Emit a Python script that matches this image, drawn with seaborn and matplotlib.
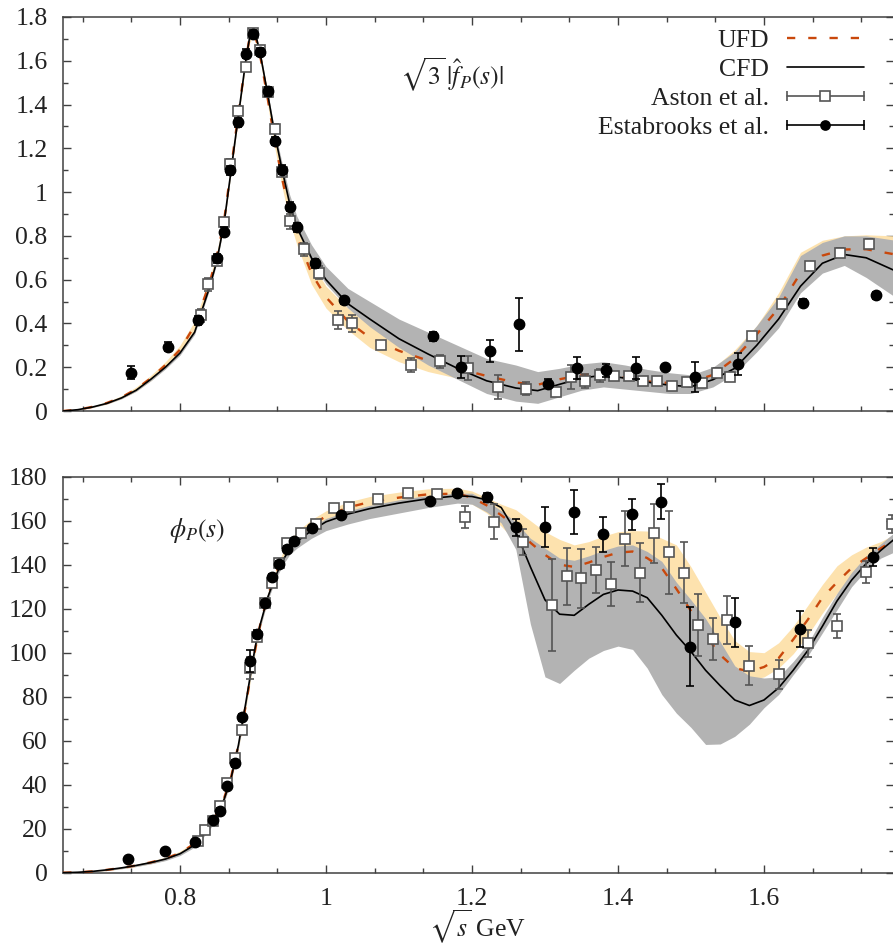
import matplotlib
matplotlib.use("Agg")
import numpy as np
import pandas as pd
import seaborn as sns
import matplotlib.pyplot as plt
from matplotlib.ticker import MultipleLocator, FuncFormatter
from matplotlib.legend_handler import HandlerBase
from matplotlib.lines import Line2D

# ---------------- data: top panel, modulus ----------------
x_curve = [0.64, 0.66, 0.68, 0.70, 0.72, 0.74, 0.76, 0.78, 0.80, 0.82, 0.84,
           0.85, 0.86, 0.87, 0.88, 0.89, 0.895, 0.90, 0.905, 0.91,
           0.92, 0.93, 0.94, 0.95, 0.96,
           0.98, 1.00, 1.03, 1.06, 1.10, 1.14, 1.18, 1.22, 1.26,
           1.29, 1.32, 1.35, 1.38, 1.41, 1.44, 1.47, 1.50, 1.53, 1.56, 1.59,
           1.62, 1.65, 1.68, 1.71, 1.74, 1.78]
cfd_mod = [0.0, 0.006, 0.018, 0.035, 0.060, 0.095, 0.145, 0.200, 0.265, 0.36, 0.56,
           0.68, 0.85, 1.10, 1.35, 1.60, 1.70, 1.735, 1.70, 1.63,
           1.45, 1.26, 1.10, 0.95, 0.84,
           0.70, 0.60, 0.49, 0.42, 0.33, 0.26, 0.195, 0.138, 0.105,
           0.093, 0.122, 0.150, 0.164, 0.150, 0.132, 0.118, 0.111, 0.143, 0.195, 0.30,
           0.42, 0.57, 0.675, 0.715, 0.70, 0.64]
cfd_mod_lo = [0.0, 0.005, 0.016, 0.032, 0.056, 0.090, 0.138, 0.192, 0.255, 0.35, 0.55,
              0.67, 0.84, 1.09, 1.34, 1.59, 1.69, 1.725, 1.69, 1.62,
              1.44, 1.25, 1.09, 0.94, 0.83,
              0.68, 0.58, 0.47, 0.385, 0.29, 0.21, 0.145, 0.08, 0.045,
              0.035, 0.065, 0.095, 0.11, 0.10, 0.09, 0.08, 0.08, 0.11, 0.17, 0.27,
              0.38, 0.54, 0.63, 0.665, 0.61, 0.52]
cfd_mod_hi = [0.0, 0.007, 0.020, 0.038, 0.064, 0.100, 0.152, 0.208, 0.275, 0.37, 0.57,
              0.69, 0.86, 1.11, 1.36, 1.61, 1.71, 1.745, 1.71, 1.64,
              1.46, 1.28, 1.13, 0.99, 0.89,
              0.76, 0.66, 0.56, 0.50, 0.42, 0.36, 0.30, 0.24, 0.21,
              0.18, 0.195, 0.215, 0.225, 0.21, 0.19, 0.175, 0.165, 0.20, 0.27, 0.39,
              0.52, 0.71, 0.77, 0.80, 0.80, 0.78]
ufd_mod = [0.0, 0.006, 0.019, 0.037, 0.063, 0.10, 0.15, 0.21, 0.28, 0.39, 0.58,
           0.70, 0.86, 1.11, 1.36, 1.60, 1.70, 1.73, 1.69, 1.62,
           1.43, 1.23, 1.06, 0.91, 0.80,
           0.63, 0.52, 0.41, 0.335, 0.275, 0.23, 0.195, 0.16, 0.13,
           0.12, 0.145, 0.165, 0.17, 0.152, 0.135, 0.128, 0.132, 0.165, 0.24, 0.35,
           0.47, 0.63, 0.71, 0.738, 0.739, 0.715]
ufd_mod_lo = [0.0, 0.005, 0.016, 0.032, 0.056, 0.090, 0.138, 0.195, 0.26, 0.37, 0.56,
              0.68, 0.84, 1.09, 1.34, 1.58, 1.68, 1.71, 1.67, 1.60,
              1.40, 1.20, 1.02, 0.87, 0.76,
              0.58, 0.47, 0.37, 0.29, 0.225, 0.18, 0.15, 0.12, 0.095,
              0.09, 0.115, 0.135, 0.14, 0.122, 0.105, 0.10, 0.105, 0.135, 0.20, 0.31,
              0.43, 0.58, 0.67, 0.70, 0.70, 0.68]
ufd_mod_hi = [0.0, 0.008, 0.022, 0.042, 0.070, 0.110, 0.163, 0.225, 0.30, 0.41, 0.60,
              0.72, 0.88, 1.13, 1.38, 1.62, 1.72, 1.75, 1.71, 1.64,
              1.46, 1.26, 1.10, 0.95, 0.84,
              0.68, 0.57, 0.47, 0.39, 0.325, 0.28, 0.24, 0.20, 0.165,
              0.15, 0.175, 0.195, 0.20, 0.182, 0.165, 0.155, 0.16, 0.195, 0.28, 0.39,
              0.54, 0.725, 0.78, 0.80, 0.805, 0.80]

est_mod_x = [0.733, 0.784, 0.824, 0.850, 0.860, 0.869, 0.880, 0.890, 0.900, 0.909,
             0.920, 0.930, 0.940, 0.950, 0.960, 0.985, 1.025, 1.146, 1.185, 1.224,
             1.264, 1.304, 1.344, 1.384, 1.425, 1.465, 1.505, 1.564, 1.654, 1.754]
est_mod_y = [0.175, 0.294, 0.415, 0.697, 0.819, 1.100, 1.319, 1.633, 1.722, 1.640,
             1.461, 1.233, 1.103, 0.933, 0.840, 0.674, 0.505, 0.342, 0.202, 0.274,
             0.396, 0.125, 0.195, 0.186, 0.195, 0.202, 0.155, 0.213, 0.495, 0.528]
est_mod_e = [0.03, 0.02, 0.02, 0.02, 0.02, 0.02, 0.02, 0.02, 0.02, 0.02,
             0.02, 0.02, 0.02, 0.02, 0.02, 0.02, 0.015, 0.02, 0.05, 0.05,
             0.12, 0.02, 0.05, 0.03, 0.05, 0.01, 0.07, 0.05, 0.015, 0.015]

ast_mod_x = [0.829, 0.839, 0.850, 0.860, 0.869, 0.880, 0.890, 0.900, 0.910, 0.920,
             0.930, 0.940, 0.950, 0.970, 0.991, 1.016, 1.035, 1.076, 1.116, 1.156,
             1.195, 1.235, 1.274, 1.315, 1.335, 1.355, 1.375, 1.394, 1.415, 1.434,
             1.454, 1.474, 1.495, 1.515, 1.535, 1.554, 1.584, 1.624, 1.663, 1.704, 1.744]
ast_mod_y = [0.437, 0.578, 0.685, 0.864, 1.129, 1.372, 1.572, 1.727, 1.648, 1.456,
             1.290, 1.093, 0.867, 0.738, 0.631, 0.415, 0.400, 0.301, 0.210, 0.228,
             0.198, 0.111, 0.102, 0.088, 0.155, 0.137, 0.163, 0.160, 0.160, 0.137,
             0.137, 0.114, 0.134, 0.129, 0.175, 0.157, 0.342, 0.487, 0.662, 0.723, 0.764]
ast_mod_e = [0.03, 0.03, 0.02, 0.02, 0.02, 0.02, 0.02, 0.02, 0.02, 0.02,
             0.02, 0.02, 0.035, 0.03, 0.03, 0.04, 0.04, 0.02, 0.03, 0.03,
             0.055, 0.055, 0.03, 0.01, 0.055, 0.03, 0.03, 0.02, 0.01, 0.01,
             0.01, 0.01, 0.01, 0.01, 0.02, 0.02, 0.01, 0.01, 0.02, 0.02, 0.02]

# ---------------- data: bottom panel, phase ----------------
x_phase = [0.64, 0.66, 0.68, 0.70, 0.72, 0.74, 0.76, 0.78, 0.80, 0.82, 0.84,
           0.85, 0.86, 0.87, 0.88, 0.89, 0.895, 0.90, 0.905, 0.91,
           0.92, 0.93, 0.94, 0.95, 0.96,
           0.98, 1.00, 1.03, 1.06, 1.10, 1.14, 1.18,
           1.20, 1.22, 1.24, 1.26, 1.28, 1.30, 1.32, 1.34, 1.36, 1.38,
           1.40, 1.42, 1.44, 1.46, 1.48, 1.50, 1.52, 1.54, 1.56, 1.58,
           1.60, 1.62, 1.64, 1.66, 1.68, 1.70, 1.72, 1.74, 1.76, 1.78]
cfd_phase = [0, 0.2, 0.6, 1.3, 2.2, 3.3, 4.6, 6.2, 8.6, 12.6, 20.5,
             26, 33, 43, 58, 77, 87, 97, 106, 113,
             125, 134, 141.5, 147, 150.5,
             155.5, 159.5, 163, 165.5, 168, 170, 171.3,
             171, 169.5, 166, 155, 139, 124, 117.5, 117, 122, 126.5,
             128.5, 128, 125, 117, 108, 100.5, 92, 85, 78.5, 76,
             78.5, 84, 92, 101, 112, 123.5, 133, 140.5, 146.5, 152]
cfd_phase_lo = [0, 0.1, 0.4, 1.0, 1.8, 2.8, 4.0, 5.5, 7.8, 11.6, 19.3,
                24.7, 31.6, 41.5, 56.5, 75.5, 85.5, 95.5, 104.5, 111.5,
                123.5, 132.5, 139.5, 144.5, 147.5,
                152, 155.5, 158.5, 161, 163.5, 166, 168,
                167.5, 164, 159, 147, 113, 89, 86, 92, 97.5, 101,
                103, 101.5, 93, 81, 72.5, 66, 58.3, 58.5, 62, 67.5,
                75, 81, 90, 98.5, 109, 119.5, 130, 137.5, 143, 146]
cfd_phase_hi = [0, 0.3, 0.8, 1.6, 2.6, 3.8, 5.2, 6.9, 9.4, 13.6, 21.7,
                27.3, 34.4, 44.5, 59.5, 78.5, 88.5, 98.5, 107.5, 114.5,
                126.5, 135.5, 143, 148.5, 152,
                157, 161, 164.5, 167, 169.5, 171.5, 172.5,
                172.5, 169, 164.5, 159.5, 152, 147.5, 143, 142, 144, 146.5,
                148.5, 149, 146, 141.5, 132, 124, 115.5, 105, 94, 89.5,
                88.5, 89, 96, 104, 116, 127, 136.5, 144, 149.5, 155]
ufd_phase = [0, 0.2, 0.6, 1.3, 2.2, 3.3, 4.7, 6.4, 9.0, 13.2, 21,
             26.5, 33.5, 43.5, 58, 76, 86, 96, 105, 113,
             125.5, 135, 143, 148.5, 152.5,
             158, 162, 166, 168.5, 170.5, 172, 172.3,
             170.5, 167, 162.5, 157.5, 150, 144.5, 140, 139, 141, 143.5,
             145.5, 146, 143, 138.5, 129, 119, 108, 99, 93, 91.5,
             93.5, 97.5, 106, 115, 125, 132, 138.5, 143, 147.5, 151.5]
ufd_phase_lo = [0, 0.1, 0.4, 1.0, 1.8, 2.8, 4.1, 5.7, 8.2, 12.2, 19.8,
                25.2, 32, 42, 56.5, 74.5, 84.5, 94.5, 103.5, 111.5,
                124, 133.5, 141, 146, 150,
                155.5, 159.5, 163.5, 166, 168, 169.5, 169.8,
                167.5, 163.5, 157.5, 150.5, 141, 135, 130, 129, 131, 133.5,
                135.5, 136, 133, 128, 117, 106, 97, 89, 86, 87.5,
                89, 93, 99.5, 108, 118, 127, 133.5, 139, 144, 149]
ufd_phase_hi = [0, 0.3, 0.8, 1.6, 2.6, 3.8, 5.3, 7.1, 9.8, 14.2, 22.2,
                27.8, 35, 45, 59.5, 77.5, 87.5, 97.5, 106.5, 114.5,
                127, 136.5, 145, 151, 155,
                160.5, 164.5, 168.5, 171, 173, 174.5, 174.8,
                173.5, 170.5, 167.5, 165, 160, 155, 151.5, 149, 150.5, 153,
                155, 155.5, 155.3, 152, 149, 139, 127.5, 116, 105.5, 100.5,
                100, 104.5, 112, 121.5, 131, 139.5, 144.5, 148, 150.5, 154]

est_ph_x = [0.729, 0.779, 0.820, 0.845, 0.855, 0.865, 0.875, 0.885, 0.896, 0.906,
            0.916, 0.926, 0.936, 0.946, 0.956, 0.981, 1.021, 1.142, 1.179, 1.220,
            1.260, 1.300, 1.340, 1.379, 1.419, 1.459, 1.499, 1.560, 1.650, 1.749]
est_ph_y = [6.1, 9.8, 13.8, 23.9, 28.2, 39.4, 49.7, 70.6, 96.2, 108.5,
            122.4, 134.5, 140.3, 147.3, 150.8, 156.8, 162.6, 168.9, 172.7, 170.6,
            157.0, 157.0, 163.8, 153.8, 162.9, 168.6, 102.7, 113.8, 110.8, 143.6]
est_ph_e = [1, 1, 1, 1, 1, 1, 1.5, 1.5, 5, 2,
            1.5, 1.5, 1.5, 1, 1, 1, 1, 1, 1, 2,
            4, 9, 10, 8, 7, 8, 18, 11, 8, 4]

ast_ph_x = [0.824, 0.834, 0.845, 0.855, 0.865, 0.875, 0.885, 0.896, 0.906, 0.916,
            0.926, 0.936, 0.946, 0.966, 0.986, 1.011, 1.031, 1.071, 1.112, 1.152,
            1.190, 1.230, 1.270, 1.310, 1.330, 1.350, 1.370, 1.390, 1.410, 1.430,
            1.450, 1.470, 1.490, 1.510, 1.530, 1.549, 1.580, 1.620, 1.660, 1.700,
            1.740, 1.775]
ast_ph_y = [14.5, 19.4, 23.5, 30.3, 40.9, 52.3, 64.8, 93.2, 107.3, 122.4,
            131.5, 140.6, 149.7, 154.5, 158.5, 165.6, 166.4, 169.7, 172.4, 172.0,
            161.5, 159.5, 150.2, 121.7, 134.8, 133.8, 137.6, 131.2, 151.7, 136.4,
            154.2, 145.6, 136.4, 112.6, 106.2, 114.8, 94.1, 90.2, 104.2, 112.3,
            136.8, 158.5]
ast_ph_e = [1, 1, 1, 1, 1, 1, 1.5, 5, 2, 1.5,
            1.5, 1.5, 1, 1, 1, 1, 1, 1, 1, 1,
            5, 8, 6, 21, 13, 13.5, 10.5, 10, 12.5, 13.5,
            13.5, 18.7, 14, 14, 9.7, 11, 9, 6.5, 6, 5.5,
            5, 4]

ytick_mod = [0, 0.2, 0.4, 0.6, 0.8, 1.0, 1.2, 1.4, 1.6, 1.8]
ytick_ph = [0, 20, 40, 60, 80, 100, 120, 140, 160, 180]
xtick_lab = [0.8, 1.0, 1.2, 1.4, 1.6]

# ---------------- style ----------------
sns.set_theme(style="ticks")
plt.rcParams["font.family"] = ["Liberation Serif", "DejaVu Serif"]
plt.rcParams["mathtext.fontset"] = "stix"

UFD_C = "#c9480c"
BAND_O = "#fde2ae"
BAND_G = "#b3b3b3"
AST_C = "#555555"
SPINE = "#404040"
TXT = "#222222"
FS = 18.5

fig = plt.figure(figsize=(8.93, 9.46), dpi=100)
L = 63 / 893
R = 894 / 893
ax1 = fig.add_axes([L, 1 - 411 / 946, R - L, (411 - 17) / 946])
ax2 = fig.add_axes([L, 1 - 872.7 / 946, R - L, (872.7 - 476.7) / 946])

fmt = FuncFormatter(lambda v, p: f"{v:g}")


def style(ax, yticks, yminor):
    ax.set_xlim(0.6397, 1.7781)
    ax.set_ylim(yticks[0], yticks[-1])
    ax.set_xticks(xtick_lab)
    ax.xaxis.set_minor_locator(MultipleLocator(0.2 / 3))
    ax.set_yticks(yticks)
    ax.yaxis.set_minor_locator(MultipleLocator(yminor))
    ax.xaxis.set_major_formatter(fmt)
    ax.yaxis.set_major_formatter(fmt)
    ax.tick_params(which="both", direction="in", top=True, right=True,
                   color=SPINE, labelcolor=TXT, labelsize=FS, pad=11)
    ax.tick_params(which="major", length=6, width=1.0)
    ax.tick_params(which="minor", length=3.5, width=1.0)
    for s in ax.spines.values():
        s.set_color(SPINE)
        s.set_linewidth(1.1)


def draw(ax, xc, cfd, cfd_lo, cfd_hi, ufd, ufd_lo, ufd_hi,
         ax_x, ax_y, ax_e, es_x, es_y, es_e):
    ax.fill_between(xc, ufd_lo, ufd_hi, color=BAND_O, lw=0, zorder=1)
    ax.fill_between(xc, cfd_lo, cfd_hi, color=BAND_G, lw=0, zorder=2)
    df = pd.DataFrame({"x": xc, "cfd": cfd, "ufd": ufd})
    sns.lineplot(data=df, x="x", y="ufd", ax=ax, color=UFD_C, lw=1.7,
                 linestyle=(0, (3.5, 5.5)), estimator=None, sort=False, zorder=3)
    sns.lineplot(data=df, x="x", y="cfd", ax=ax, color="black", lw=1.2,
                 estimator=None, sort=False, zorder=4)
    ax.errorbar(ax_x, ax_y, yerr=ax_e, fmt="s", ms=7.5, mfc="white", mec=AST_C,
                mew=1.2, ecolor=AST_C, elinewidth=1.2, capsize=3, capthick=1.2,
                zorder=5)
    ax.errorbar(es_x, es_y, yerr=es_e, fmt="o", ms=7.5, mfc="black", mec="black",
                ecolor="black", elinewidth=1.2, capsize=3, capthick=1.2, zorder=6)
    ax.set_xlabel("")
    ax.set_ylabel("")


draw(ax1, x_curve, cfd_mod, cfd_mod_lo, cfd_mod_hi, ufd_mod, ufd_mod_lo, ufd_mod_hi,
     ast_mod_x, ast_mod_y, ast_mod_e, est_mod_x, est_mod_y, est_mod_e)
draw(ax2, x_phase, cfd_phase, cfd_phase_lo, cfd_phase_hi, ufd_phase, ufd_phase_lo,
     ufd_phase_hi, ast_ph_x, ast_ph_y, ast_ph_e, est_ph_x, est_ph_y, est_ph_e)
style(ax1, ytick_mod, 0.1)
style(ax2, ytick_ph, 10)
ax1.tick_params(labelbottom=False)

ax1.text(0.468, 0.853, r"$\sqrt{3}\,|\hat{f}_P(s)|$", transform=ax1.transAxes,
         ha="center", va="center", fontsize=FS, color=TXT)
ax2.text(0.161, 0.863, r"$\phi_P(s)$", transform=ax2.transAxes,
         ha="center", va="center", fontsize=FS, color=TXT)
fig.text(478 / 893, 1 - 927 / 946, r"$\sqrt{s}$ GeV", ha="center", va="center",
         fontsize=FS, color=TXT)


# ---------------- legend (gnuplot-like) ----------------
class HandlerGP(HandlerBase):
    def __init__(self, color, marker, mfc, ms):
        super().__init__()
        self.c, self.m, self.mfc, self.ms = color, marker, mfc, ms

    def create_artists(self, legend, orig, xd, yd, w, h, fs, trans):
        y = h / 2 - yd
        x0, x1 = -xd, -xd + w
        line = Line2D([x0, x1], [y, y], color=self.c, lw=1.2)
        caps = Line2D([x0, x1], [y, y], ls="none", marker="|", ms=7,
                      mew=1.2, color=self.c)
        mk = Line2D([(x0 + x1) / 2], [y], ls="none", marker=self.m, ms=self.ms,
                    mfc=self.mfc, mec=self.c, mew=1.2)
        for a in (line, caps, mk):
            a.set_transform(trans)
        return [line, caps, mk]


h_ufd = Line2D([], [], color=UFD_C, lw=1.7, ls=(0, (3.5, 5.5)))
h_cfd = Line2D([], [], color="black", lw=1.2)
h_ast = Line2D([], [], color=AST_C)
h_est = Line2D([], [], color="black")
leg = ax1.legend([h_ufd, h_cfd, h_ast, h_est],
                 ["UFD", "CFD", "Aston et al.", "Estabrooks et al."],
                 handler_map={h_ast: HandlerGP(AST_C, "s", "white", 6.5),
                              h_est: HandlerGP("black", "o", "black", 6.5)},
                 loc="upper right", bbox_to_anchor=(864 / 893, 1 - 29 / 946),
                 bbox_transform=fig.transFigure, frameon=False, markerfirst=False,
                 handlelength=3.0, handletextpad=0.7, borderpad=0,
                 borderaxespad=0, labelspacing=0.23, fontsize=FS)
for t in leg.get_texts():
    t.set_color(TXT)

fig.savefig("out.png", dpi=100)
